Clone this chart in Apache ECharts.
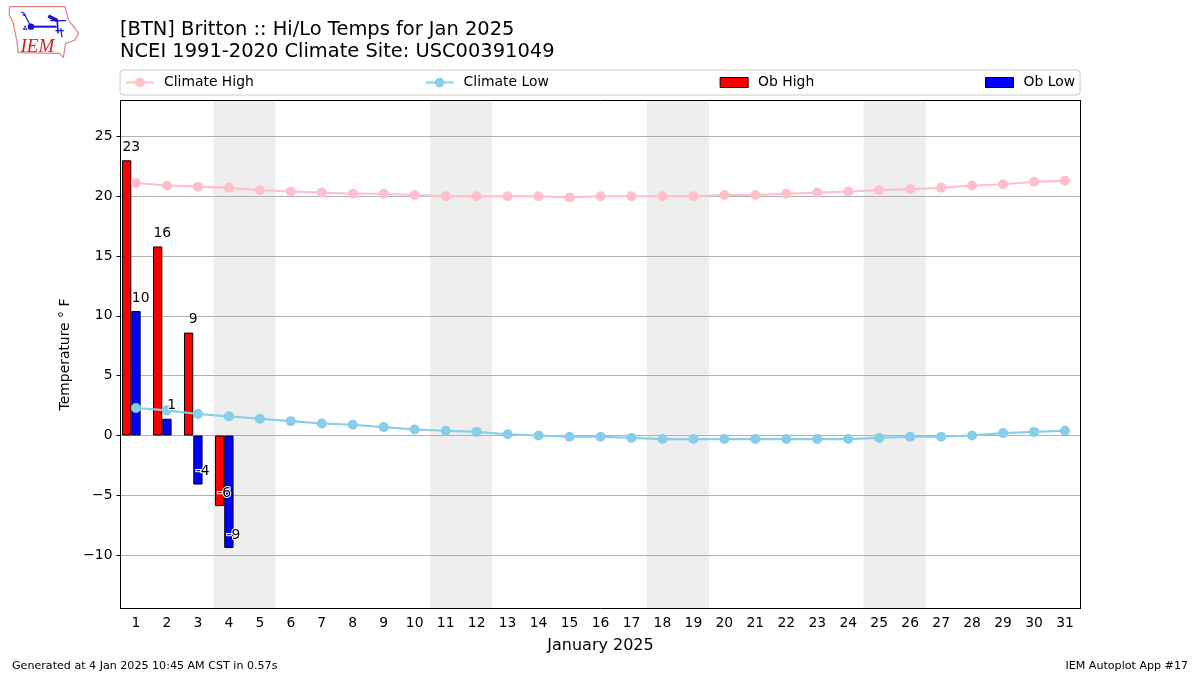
<!DOCTYPE html>
<html>
<head>
<meta charset="utf-8">
<style>html,body{margin:0;padding:0;background:#fff}#c{width:1200px;height:675px}</style>
<script src="https://cdn.jsdelivr.net/npm/echarts@6/dist/echarts.min.js"></script>
</head>
<body>
<div id="c"></div>
<script>
const days = ['1','2','3','4','5','6','7','8','9','10','11','12','13','14','15','16','17','18','19','20','21','22','23','24','25','26','27','28','29','30','31'];
const climateHigh = [21.1,20.9,20.8,20.7,20.5,20.4,20.3,20.2,20.2,20.1,20.0,20.0,20.0,20.0,19.9,20.0,20.0,20.0,20.0,20.1,20.1,20.2,20.3,20.4,20.5,20.6,20.7,20.9,21.0,21.2,21.3];
const climateLow = [2.3,2.1,1.8,1.6,1.4,1.2,1.0,0.9,0.7,0.5,0.4,0.3,0.1,0.0,-0.1,-0.1,-0.2,-0.3,-0.3,-0.3,-0.3,-0.3,-0.3,-0.3,-0.2,-0.1,-0.1,0.0,0.2,0.3,0.4];
const obHigh = [23,15.8,8.6,-5.9];
const obLow = [10.4,1.4,-4.1,-9.4];
const weekends = [[3.5,5.5],[10.5,12.5],[17.5,19.5],[24.5,26.5]];
const yRange = [-14.46,28];
const yTicks = [-10,-5,0,5,10,15,20,25];
const barEdge = 0.15;
const font = 'DejaVu Sans';

const labelSeries = (name, values, dx) => ({
  name, type:'scatter', xAxisIndex:1, yAxisIndex:0, z:6, symbolSize:0, silent:true,
  data: values.map((v,i)=>[i+1+dx, v]),
  itemStyle:{opacity:1},
  label:{show:true, position:'top', distance:6, fontFamily:font, fontSize:13.9, color:'#000', opacity:1,
    textBorderColor:'#fff', textBorderWidth:2,
    formatter:p=>String(Math.round(p.value[1]))}
});
const barSeries = (name, values, color) => ({
  name, type:'bar', xAxisIndex:0, yAxisIndex:0, z:3, barWidth:'30%', barGap:0,
  data:values, itemStyle:{color, borderColor:'#000', borderWidth:1, borderJoin:'miter'}
});
const lineSeries = (name, values, color) => ({
  name, type:'line', xAxisIndex:0, yAxisIndex:0, z:5, data:values, symbol:'circle', symbolSize:10,
  showSymbol:true, lineStyle:{color, width:2.1}, itemStyle:{color}
});

// IEM logo decoration
const s = 1/3;
const pts = a => a.map(p=>[p[0]*s,p[1]*s]);
const logoLine = (a,c,w) => ({type:'polyline', silent:true, shape:{points:pts(a)}, style:{stroke:c, lineWidth:w, fill:null}});
const blue = '#1414d2';
const logo = [
  logoLine([[28,20],[195,20],[205,60],[225,85],[236,100],[225,120],[197,130],[190,172],[178,160],[55,158],[50,120],[40,70],[28,45],[28,20]],'#e08080',1.2),
  logoLine([[93,80],[170,80]],blue,2),
  logoLine([[93,80],[72,40]],blue,1.2),
  logoLine([[72,40],[64,36]],blue,1.2),
  logoLine([[78,48],[68,44]],blue,1.2),
  logoLine([[145,48],[172,62]],blue,3.5),
  logoLine([[150,62],[198,62]],blue,1.2),
  logoLine([[172,62],[174,100]],blue,1.6),
  logoLine([[166,92],[192,92]],blue,1.2),
  logoLine([[182,85],[186,112]],blue,1.2),
  {type:'circle', silent:true, shape:{cx:93*s,cy:80*s,r:3.2}, style:{fill:blue}},
  {type:'circle', silent:true, shape:{cx:72*s,cy:87*s,r:1}, style:{fill:blue}},
  {type:'circle', silent:true, shape:{cx:79*s,cy:87*s,r:1}, style:{fill:blue}},
  {type:'circle', silent:true, shape:{cx:75*s,cy:80*s,r:1}, style:{fill:blue}},
  {type:'text', silent:true, x:20.5, y:37, style:{text:'IEM', fill:'#cc2222', font:'italic 19px "Liberation Serif"'}}
];

const spine = {show:true, onZero:false, lineStyle:{color:'#000', width:1}};

const chart = echarts.init(document.getElementById('c'), null, {renderer:'canvas'});
chart.setOption({
  animation:false,
  backgroundColor:'#fff',
  title:[
    {text:'[BTN] Britton :: Hi/Lo Temps for Jan 2025\nNCEI 1991-2020 Climate Site: USC00391049',
     left:120, top:19, padding:0,
     textStyle:{fontFamily:font, fontSize:19.45, fontWeight:'normal', color:'#000', lineHeight:22}},
    {text:'Generated at 4 Jan 2025 10:45 AM CST in 0.57s', left:12, top:661, padding:0,
     textStyle:{fontFamily:font, fontSize:11.1, fontWeight:'normal', color:'#000'}},
    {text:'IEM Autoplot App #17', right:12, top:661, padding:0,
     textStyle:{fontFamily:font, fontSize:11.1, fontWeight:'normal', color:'#000'}}
  ],
  legend:{
    left:120, top:70, orient:'horizontal', itemGap:170.8, itemWidth:28, itemHeight:12,
    padding:[5.5,5,5.5,5], borderColor:'#ccc', borderWidth:1, borderRadius:3, backgroundColor:'#fff',
    itemStyle:{borderWidth:1},
    data:[{name:'Climate High'},{name:'Climate Low'},
      {name:'Ob High',icon:'path://M0 0H28V10H0Z'},{name:'Ob Low',icon:'path://M0 0H28V10H0Z'}],
    textStyle:{fontFamily:font, fontSize:13.9, color:'#000', padding:[0,0,0,5]}
  },
  grid:{left:120.5, top:100.5, width:960, height:508, show:false, containLabel:false},
  xAxis:[
    {type:'category', data:days, boundaryGap:true, z:2, name:'January 2025', nameLocation:'middle', nameGap:29,
     nameTextStyle:{fontFamily:font, fontSize:16, color:'#000'},
     axisLine:spine,
     axisTick:{alignWithLabel:true, length:4, lineStyle:{color:'#000'}},
     axisLabel:{interval:0, fontFamily:font, fontSize:13.9, color:'#000', margin:8},
     splitLine:{show:false}},
    {type:'value', min:0.5, max:31.5, position:'top', z:2, show:true,
     axisLine:spine, axisTick:{show:false}, axisLabel:{show:false}, splitLine:{show:false}}
  ],
  yAxis:[
    {type:'value', min:yRange[0], max:yRange[1], z:1,
     name:'Temperature \u00B0 F', nameLocation:'middle', nameGap:48,
     nameTextStyle:{fontFamily:font, fontSize:13.9, color:'#000'},
     axisLine:spine,
     axisTick:{show:true, length:4, customValues:yTicks, lineStyle:{color:'#000'}},
     axisLabel:{customValues:yTicks, fontFamily:font, fontSize:13.9, color:'#000', margin:8, padding:[2,0,0,0],
       formatter:v=>String(v).replace('-','\u2212')},
     splitLine:{show:true, lineStyle:{color:'#b0b0b0', width:1}}},
    {type:'value', min:yRange[0], max:yRange[1], position:'right', z:2, show:true,
     axisLine:spine, axisTick:{show:false}, axisLabel:{show:false}, splitLine:{show:false}}
  ],
  graphic:[{type:'group', x:0, y:0, children:logo}],
  series:[
    {name:'Weekend', type:'line', xAxisIndex:1, yAxisIndex:0, z:0, data:[], silent:true,
     markArea:{silent:true, z:0, itemStyle:{color:'#eeeeee'},
       data:weekends.map(w=>[{xAxis:w[0], yAxis:yRange[0]},{xAxis:w[1], yAxis:yRange[1]}])}},
    barSeries('Ob High', obHigh, '#ff0000'),
    barSeries('Ob Low', obLow, '#0000ff'),
    {name:'Offset', type:'bar', xAxisIndex:0, yAxisIndex:0, barWidth:'30%', barGap:0, data:days.map(()=>null), silent:true},
    lineSeries('Climate High', climateHigh, '#ffc0cb'),
    lineSeries('Climate Low', climateLow, '#87ceeb'),
    labelSeries('Ob High Labels', obHigh, -barEdge),
    labelSeries('Ob Low Labels', obLow, barEdge)
  ]
});
</script>
</body>
</html>
